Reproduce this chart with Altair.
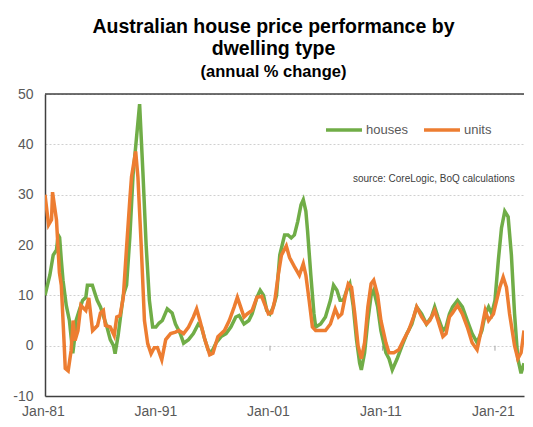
import altair as alt
import pandas as pd

# ---- data ----
houses_years = [1981.0, 1981.43, 1981.73, 1982.02, 1982.17, 1982.30, 1982.45, 1982.60, 1982.89, 1983.17,
                1983.47, 1983.61, 1983.76, 1984.04, 1984.34, 1984.63, 1984.77, 1985.21, 1985.35, 1985.64,
                1985.93, 1986.22, 1986.51, 1986.80, 1987.09, 1987.23, 1987.50, 1987.67, 1987.96, 1988.25,
                1988.54, 1988.83, 1989.12, 1989.41, 1989.70, 1989.99, 1990.28, 1990.57, 1990.86, 1991.15,
                1991.43, 1991.87, 1992.30, 1992.60, 1993.03, 1993.32, 1993.76, 1994.19, 1994.63, 1994.91,
                1995.21, 1995.50, 1995.78, 1996.22, 1996.65, 1997.09, 1997.52, 1997.96, 1998.25, 1998.69,
                1999.12, 1999.41, 1999.84, 2000.13, 2000.43, 2000.71, 2001.00, 2001.30, 2001.58, 2001.87,
                2002.17, 2002.30, 2002.60, 2002.89, 2003.17, 2003.47, 2003.76, 2003.96, 2004.19, 2004.34,
                2004.63, 2004.91, 2005.06, 2005.50, 2005.93, 2006.37, 2006.65, 2006.95, 2007.23, 2007.52,
                2007.82, 2008.10, 2008.39, 2008.69, 2008.97, 2009.12, 2009.41, 2009.70, 2009.99, 2010.22,
                2010.57, 2010.86, 2011.30, 2011.58, 2011.87, 2012.30, 2012.74, 2013.17, 2013.61, 2014.04,
                2014.48, 2014.91, 2015.35, 2015.64, 2015.93, 2016.37, 2016.65, 2016.95, 2017.23, 2017.67,
                2018.10, 2018.54, 2018.97, 2019.41, 2019.84, 2020.13, 2020.43, 2020.71, 2021.00, 2021.30,
                2021.58, 2021.87, 2022.17, 2022.46, 2022.74, 2023.03, 2023.32, 2023.58]
houses_values = [10, 14, 18, 19, 22, 21.5, 17, 13, 8, 5,
                 -1.5, 1, 5, 7, 9, 9.6, 12, 12, 11, 9,
                 7.7, 5.7, 3.7, 1.2, 0, -1.6, 2, 5, 10, 12,
                 21.5, 34, 41, 48, 34.6, 20, 9, 3.7, 3.7, 4.5,
                 5, 7.3, 6.5, 4.3, 2.4, 0.5, 1.2, 2.4, 4.3, 3.7,
                 1.2, -0.8, -1.4, 0.6, 1.8, 2.4, 3.7, 5.7, 6, 4.3,
                 5, 6.3, 9.6, 11, 10, 7, 6.3, 7.7, 10, 18,
                 20.8, 22, 22, 21.4, 22, 24.7, 28, 29, 26.7, 22.8,
                 14, 6.3, 3.7, 4.3, 5.7, 9, 12, 11, 9, 9,
                 11, 12.3, 8, 1.2, -3.5, -4.8, -1.4, 5, 10, 11,
                 7.7, 3, -1.4, -2.6, -4.8, -2.6, 0, 2.4, 4.3, 7.7,
                 6.3, 4.3, 5.7, 7.7, 5.7, 3, 3.7, 6.3, 7.7, 9,
                 7.7, 5, 2.4, 0.6, 3, 6.3, 7.7, 6.3, 9, 17,
                 23.4, 26.7, 25.6, 18, 6.3, -2.6, -5.5, -3.5]

units_years = [1981.0, 1981.32, 1981.58, 1981.67, 1982.02, 1982.28, 1982.45, 1982.71, 1982.80, 1983.06,
               1983.32, 1983.50, 1983.67, 1983.93, 1984.19, 1984.63, 1984.89, 1985.23, 1985.67, 1985.93,
               1986.19, 1986.37, 1986.80, 1987.15, 1987.38, 1987.67, 1987.96, 1988.25, 1988.54, 1988.69,
               1989.06, 1989.26, 1989.56, 1989.84, 1990.13, 1990.43, 1990.71, 1991.00, 1991.38, 1991.73,
               1992.17, 1992.60, 1992.89, 1993.32, 1993.76, 1994.19, 1994.48, 1994.77, 1995.21, 1995.64,
               1995.93, 1996.37, 1996.95, 1997.38, 1997.82, 1998.10, 1998.39, 1998.69, 1998.97, 1999.41,
               1999.84, 2000.26, 2000.57, 2000.86, 2001.15, 2001.43, 2001.73, 2002.02, 2002.45, 2002.74,
               2003.17, 2003.61, 2003.96, 2004.19, 2004.48, 2004.77, 2005.06, 2005.50, 2005.93, 2006.37,
               2006.80, 2007.09, 2007.38, 2007.67, 2007.96, 2008.25, 2008.54, 2008.83, 2009.12, 2009.41,
               2009.70, 2009.99, 2010.22, 2010.57, 2010.86, 2011.30, 2011.58, 2012.01, 2012.45, 2012.89,
               2013.32, 2013.76, 2014.04, 2014.48, 2014.91, 2015.21, 2015.64, 2015.93, 2016.37, 2016.65,
               2016.95, 2017.23, 2017.67, 2018.10, 2018.54, 2018.97, 2019.41, 2019.84, 2020.13, 2020.43,
               2020.86, 2021.15, 2021.43, 2021.73, 2022.02, 2022.30, 2022.74, 2023.03, 2023.32, 2023.58]
units_values = [30, 24, 25, 30.5, 25, 14.5, 12, 0, -4.5, -5,
                -1, 5, 1, 3, 8, 7, 9.5, 3, 4, 6.5,
                7, 4, 3.7, 2, 5.7, 6, 9.6, 19.5, 29, 33.5,
                38.6, 33.5, 19.5, 5, 0.4, -1.6, -0.4, -0.4, -2.8, 1.2,
                2.4, 2.7, 3, 2.4, 3.7, 5.7, 7.3, 5, 1.2, -1.8,
                -1.5, 1.8, 3, 5, 7.7, 9.6, 7.7, 5.7, 6.3, 7,
                9.6, 9.8, 8, 6.3, 6.5, 9, 14, 18, 19.8, 17.5,
                15.7, 14, 16.3, 14, 9, 3.7, 3, 3, 3, 4.3,
                7.3, 5.7, 6.3, 9.6, 12.3, 11.6, 6.3, 0, -2.6, 0.6,
                7.7, 12.3, 13, 10, 5, 0.6, -1.4, -1.4, -0.8, 1.2,
                3, 5.7, 7.7, 5.7, 4.3, 5, 7, 5, 1.8, 2.4,
                5.7, 6.5, 8, 6.3, 3.7, 0.6, -0.8, 3.7, 7, 5,
                6.3, 9, 11.6, 13.6, 11.6, 6.3, 0, -2.6, -1.4, 3]

series_names = ["houses", "units"]
series_colors = ["#70AD47", "#ED7D31"]
tick_years = [1981, 1991, 2001, 2011, 2021]
y_ticks = [-10, 0, 10, 20, 30, 40, 50]
zero_tick_years = [1991, 2001, 2011, 2021]
source_text = "source:  CoreLogic, BoQ calculations"

rows = [{"year": y, "value": v, "series": "houses"} for y, v in zip(houses_years, houses_values)]
rows += [{"year": y, "value": v, "series": "units"} for y, v in zip(units_years, units_values)]
df = pd.DataFrame(rows)

FONT = "Liberation Sans"
DARK = "#404040"

x_scale = alt.Scale(domain=[1981, 2023.58], nice=False, zero=False)
y_scale = alt.Scale(domain=[-10, 50], nice=False)

lines = alt.Chart(df).mark_line(strokeWidth=3.5, clip=True).encode(
    x=alt.X("year:Q", scale=x_scale,
            axis=alt.Axis(values=tick_years, title=None, grid=False, ticks=False,
                          labelExpr="'Jan-' + substring(toString(datum.value), 2, 4)",
                          labelFlush=False, labelFont=FONT, labelFontSize=14,
                          labelColor="#595959", labelPadding=8, labelOffset=-2,
                          domainColor=DARK, domainWidth=1.5)),
    y=alt.Y("value:Q", scale=y_scale,
            axis=alt.Axis(values=y_ticks, title=None, ticks=False,
                          labelExpr="'' + datum.value",
                          labelFont=FONT, labelFontSize=14, labelColor="#595959",
                          labelPadding=12, domainColor=DARK, domainWidth=1.5,
                          gridColor="#D0D0D0", gridDash=[2, 2], gridWidth=1)),
    color=alt.Color("series:N",
                    scale=alt.Scale(domain=series_names, range=series_colors),
                    legend=alt.Legend(orient="none", legendX=279, legendY=16,
                                      direction="horizontal", title=None,
                                      symbolType="stroke", symbolSize=1296,
                                      symbolStrokeWidth=3.5, labelFont=FONT,
                                      labelFontSize=13, labelColor="#595959",
                                      labelOffset=2, columnPadding=9)),
)

top_frame = alt.Chart(pd.DataFrame({"y": [max(y_ticks)]})).mark_rule(
    color=DARK, strokeWidth=1.5
).encode(y=alt.Y("y:Q", scale=y_scale))

zero_ticks = alt.Chart(pd.DataFrame({"year": zero_tick_years, "top": [0] * 4, "bottom": [-1] * 4})).mark_rule(
    color="#A6A6A6", strokeWidth=1
).encode(x=alt.X("year:Q", scale=x_scale), y=alt.Y("top:Q", scale=y_scale), y2="bottom:Q")

source = alt.Chart(pd.DataFrame({"t": [source_text]})).mark_text(
    align="left", baseline="middle", fontSize=10, font=FONT, color=DARK
).encode(text="t:N", x=alt.value(308), y=alt.value(85))

chart = alt.layer(zero_ticks, top_frame, lines, source).properties(
    width=517, height=410,
    autosize=alt.AutoSizeParams(type="fit", contains="padding"),
    padding={"left": 4, "top": 9, "right": 0, "bottom": 0},
    title=alt.TitleParams(
        text=["Australian house price performance by", "dwelling type"],
        subtitle="(annual % change)",
        font=FONT, fontSize=19.5, fontWeight="bold", color="black",
        subtitleFont=FONT, subtitleFontSize=16.5, subtitleFontWeight="bold", subtitleColor="black",
        lineHeight=22, subtitleLineHeight=20, subtitlePadding=4,
        anchor="middle", dx=-11, offset=6),
).configure_view(strokeWidth=0)

chart.save("out.html", embed_options={"renderer": "svg", "actions": False})
